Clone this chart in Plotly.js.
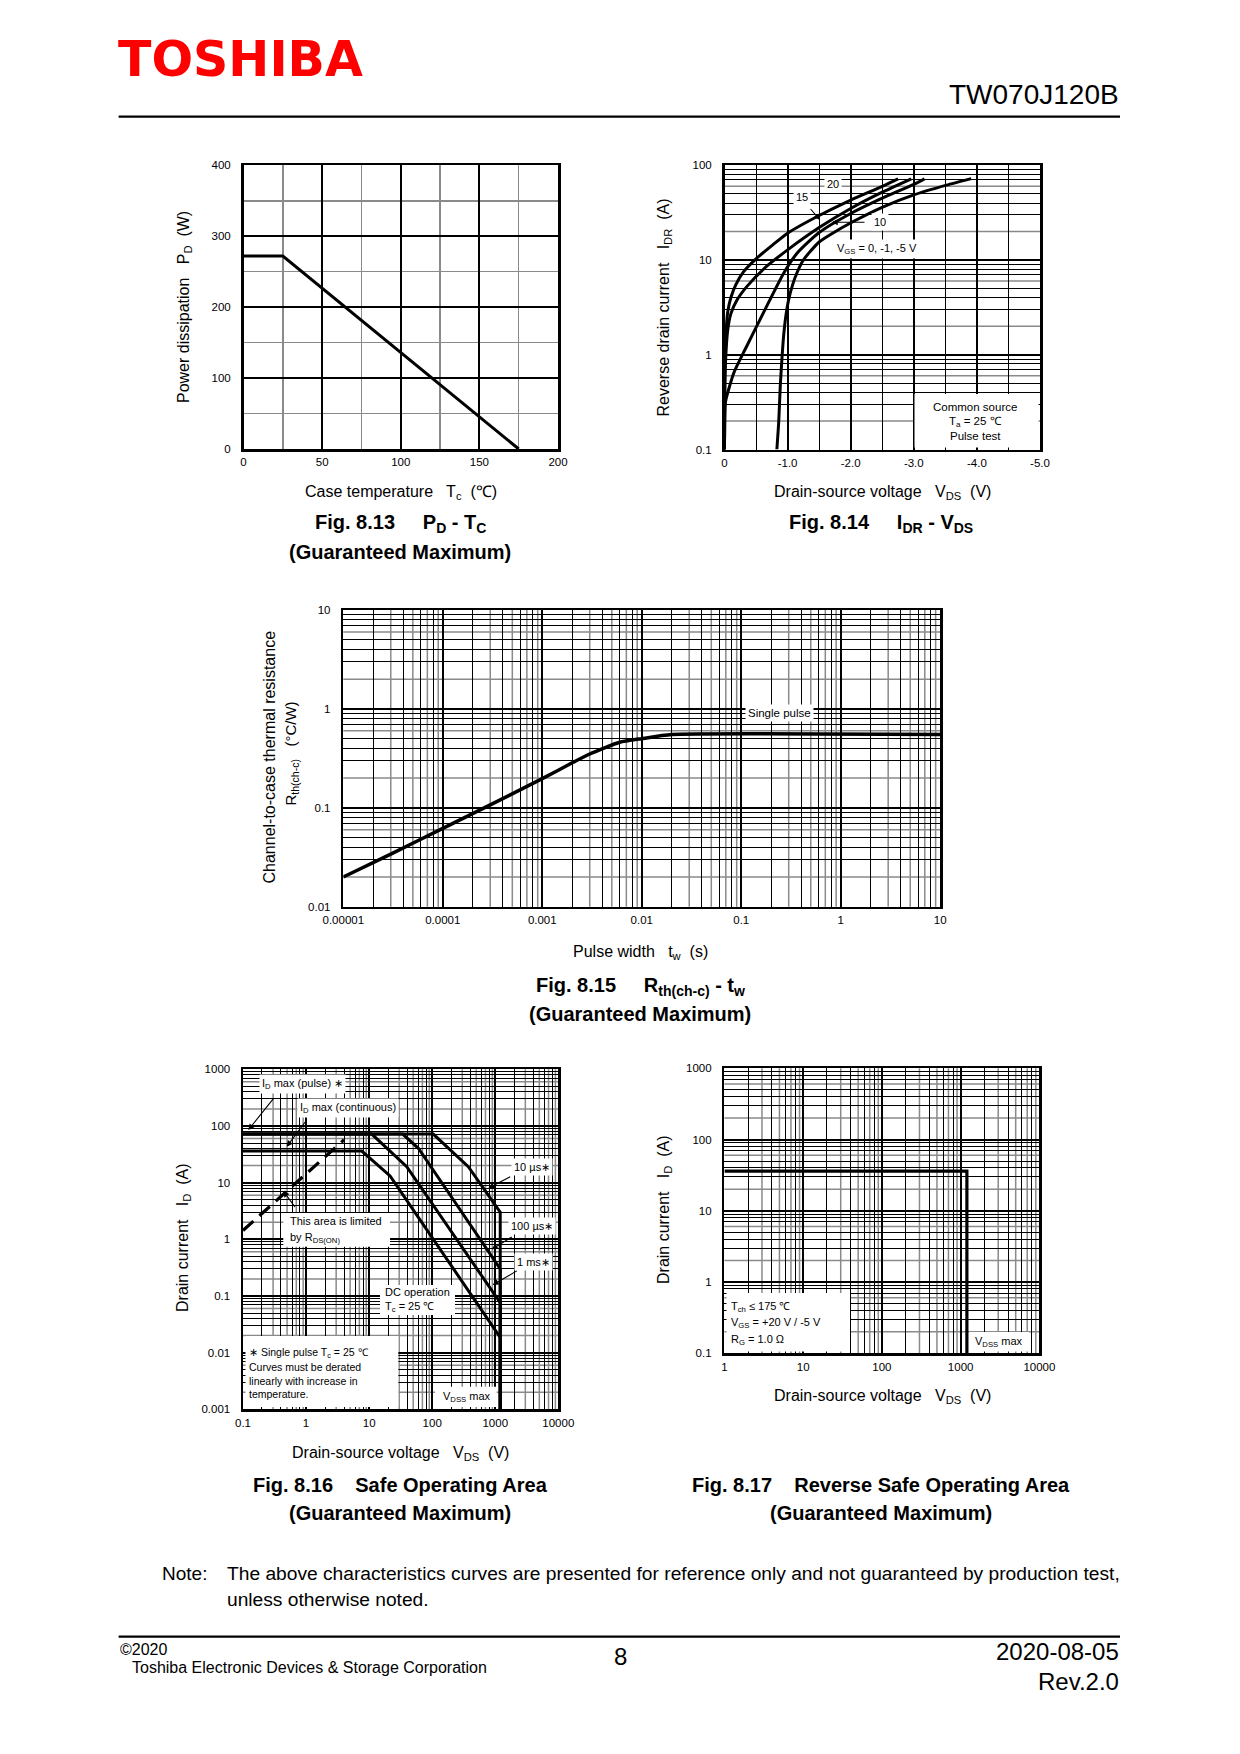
<!DOCTYPE html>
<html><head><meta charset="utf-8">
<script src="https://cdn.plot.ly/plotly-3.0.1.min.js"></script>
<style>html,body{margin:0;padding:0;background:#fff}</style>
</head><body>
<div id="page" style="width:1240px;height:1754px"></div>
<script>
// ---------------- DATA ----------------
// Fig 8.13  PD - Tc
const tcCase = [0, 25, 175];
const pdPower = [272, 272, 0];

// Fig 8.14  IDR - VDS (VDS negative)
const vds20 = [0, -0.005, -0.02, -0.05, -0.1, -0.18, -0.3, -0.5, -0.75, -1.0, -1.5, -2.0, -2.5, -2.75];
const idr20 = [0.1, 0.6, 1.5, 2.8, 4.0, 5.5, 7.5, 10.3, 14.2, 19.2, 29.5, 43, 60, 72];
const vds15 = [0, -0.005, -0.02, -0.05, -0.1, -0.2, -0.36, -0.67, -1.0, -1.5, -2.0, -2.5, -2.96];
const idr15 = [0.1, 0.45, 0.95, 1.8, 2.7, 3.8, 5.3, 8.6, 12.8, 22, 35, 52, 72];
const vds10 = [0, -0.004, -0.016, -0.15, -0.33, -0.62, -0.94, -1.15, -1.5, -2.0, -2.5, -3.0, -3.17];
const idr10 = [0.1, 0.22, 0.32, 0.65, 1.15, 2.8, 7.3, 11.8, 19.5, 31, 45, 63, 72];
const vds0 = [-0.83, -0.86, -0.884, -0.91, -0.937, -0.97, -1.016, -1.08, -1.147, -1.25, -1.358, -1.5, -1.674, -2.04, -2.516, -2.99, -3.516, -3.91];
const idr0 = [0.1, 0.2, 0.47, 0.9, 1.58, 2.5, 3.8, 5.5, 7.3, 10, 12.3, 15.5, 18.5, 25.5, 36.5, 48.4, 61.7, 72.4];

// Fig 8.15  Rth(ch-c) - tw
const pulseWidth = [1e-5, 3e-5, 1e-4, 3e-4, 1e-3, 2e-3, 3e-3, 6e-3, 1e-2, 2e-2, 10];
const rthCh = [0.020, 0.034, 0.062, 0.107, 0.197, 0.285, 0.35, 0.46, 0.50, 0.55, 0.55];

// Fig 8.16  Safe operating area
const soaV10us = [0.1, 104, 374, 1200, 1200];
const soaI10us = [72, 72, 19.1, 3.0, 0.001];
const soaV100us = [0.1, 34, 60.4, 1200, 1200];
const soaI100us = [72, 72, 40.4, 0.3, 0.001];
const soaV1ms = [0.1, 11, 39.5, 1200, 1200];
const soaI1ms = [72, 72, 19.1, 0.076, 0.001];
const soaVdc = [0.1, 7.65, 21.5, 1200, 1200];
const soaIdc = [36, 36, 13.1, 0.0186, 0.001];
const rdsV = [0.1, 4.0];
const rdsI = [1.43, 57];

// Fig 8.17  Reverse safe operating area
const rsoaV = [1, 1200, 1200];
const rsoaI = [36, 36, 0.1];

// tick labels
const tcTicks = [0, 50, 100, 150, 200];
const pdTicks = [0, 100, 200, 300, 400];
const vdsTicks = [0, -1, -2, -3, -4, -5];
const vdsTickText = ['0', '-1.0', '-2.0', '-3.0', '-4.0', '-5.0'];
const idrTicks = [0.1, 1, 10, 100];
const idrTickText = ['0.1', '1', '10', '100'];
const twTicks = [1e-5, 1e-4, 1e-3, 1e-2, 0.1, 1, 10];
const twTickText = ['0.00001', '0.0001', '0.001', '0.01', '0.1', '1', '10'];
const rthTicks = [0.01, 0.1, 1, 10];
const rthTickText = ['0.01', '0.1', '1', '10'];
const soaVTicks = [0.1, 1, 10, 100, 1000, 10000];
const soaVTickText = ['0.1', '1', '10', '100', '1000', '10000'];
const soaITicks = [0.001, 0.01, 0.1, 1, 10, 100, 1000];
const soaITickText = ['0.001', '0.01', '0.1', '1', '10', '100', '1000'];
const rsoaVTicks = [1, 10, 100, 1000, 10000];
const rsoaVTickText = ['1', '10', '100', '1000', '10000'];
const rsoaITicks = [0.1, 1, 10, 100, 1000];
const rsoaITickText = ['0.1', '1', '10', '100', '1000'];

// ---------------- HELPERS ----------------
const F = 'Liberation Sans, Arial, Helvetica, sans-serif';
const W = 1240, H = 1754;
const X = px => px / W;
const Y = py => 1 - py / H;

function mult(lo, hi, ms) {
  const out = [];
  for (let k = lo; k < hi; k++) for (const m of ms) out.push(m * Math.pow(10, k));
  return out;
}
function baseAxis(extra, isY) {
  return Object.assign({
    showline: true, mirror: true, linecolor: '#000', linewidth: 2.5,
    zeroline: false, ticks: '', showgrid: true, gridcolor: '#000', gridwidth: 2,
    fixedrange: true, tickmode: 'array', ticklabelstandoff: isY ? 8 : 1,
    tickfont: {family: F, size: 11.5, color: '#000'}
  }, extra);
}
function xdom(a, b) { return [X(a), X(b)]; }
function ydom(top, bot) { return [Y(bot), Y(top)]; }

const shapes = [];
function grayLines(xref, yref, vals, dir) {
  for (const v of vals) {
    if (dir === 'x') shapes.push({type: 'line', xref: xref, yref: yref + ' domain', x0: v, x1: v, y0: 0, y1: 1, layer: 'below', line: {color: '#8a8a8a', width: 1.5}});
    else shapes.push({type: 'line', xref: xref + ' domain', yref: yref, x0: 0, x1: 1, y0: v, y1: v, layer: 'below', line: {color: '#8a8a8a', width: 1.5}});
  }
}
function box(x0, x1, y0, y1) {
  shapes.push({type: 'rect', xref: 'paper', yref: 'paper', x0: X(x0), x1: X(x1), y0: Y(y1), y1: Y(y0), layer: 'above', fillcolor: '#fff', line: {width: 0}});
}
function hline(x0, x1, y, w) {
  shapes.push({type: 'line', xref: 'paper', yref: 'paper', x0: X(x0), x1: X(x1), y0: Y(y), y1: Y(y), line: {color: '#000', width: w}});
}

const ann = [];
function A(text, px, py, o) {
  o = o || {};
  const a = {text: text, xref: 'paper', yref: 'paper', x: X(px), y: Y(py), showarrow: false,
    xanchor: o.xa || 'center', yanchor: 'middle',
    font: {family: o.family || F, size: o.size || 11, color: o.color || '#000', weight: o.weight || 'normal'}};
  if (o.angle) a.textangle = o.angle;
  if (o.bg) { a.bgcolor = '#fff'; a.borderpad = o.pad == null ? 2 : o.pad; }
  ann.push(a);
}
function arrow(hx, hy, tx, ty) {
  ann.push({text: '', xref: 'paper', yref: 'paper', x: X(hx), y: Y(hy), ax: tx - hx, ay: ty - hy,
    showarrow: true, arrowhead: 2, arrowsize: 1.1, arrowwidth: 1.1, arrowcolor: '#000', standoff: 0});
}

// ---------------- AXES ----------------
const layout = {
  width: W, height: H, autosize: false, margin: {l: 0, r: 0, t: 0, b: 0},
  paper_bgcolor: '#fff', plot_bgcolor: '#fff', showlegend: false,
  font: {family: F, size: 11, color: '#000'},

  // Fig 8.13
  xaxis: baseAxis({domain: xdom(243.5, 558), anchor: 'y', range: [0, 200], tickvals: tcTicks, ticktext: tcTicks.map(String),
    minor: {tickmode: 'array', tickvals: [25, 75, 125, 175], showgrid: true, gridcolor: '#8a8a8a', gridwidth: 1.5, ticks: ''}}),
  yaxis: baseAxis({domain: ydom(165.3, 449), anchor: 'x', range: [0, 400], tickvals: pdTicks, ticktext: pdTicks.map(String),
    minor: {tickmode: 'array', tickvals: [50, 150, 250, 350], showgrid: true, gridcolor: '#8a8a8a', gridwidth: 1.5, ticks: ''}}, true),

  // Fig 8.14
  xaxis2: baseAxis({domain: xdom(724.5, 1040), anchor: 'y2', range: [0, -5], tickvals: vdsTicks, ticktext: vdsTickText,
    minor: {tickmode: 'array', tickvals: [-0.5, -1.5, -2.5, -3.5, -4.5], showgrid: true, gridcolor: '#000', gridwidth: 1, ticks: ''}}),
  yaxis2: baseAxis({domain: ydom(165.3, 449.5), anchor: 'x2', type: 'log', range: [-1, 2], tickvals: idrTicks, ticktext: idrTickText,
    minor: {tickmode: 'array', tickvals: mult(-1, 2, [3, 4, 5, 7, 8, 9]), showgrid: true, gridcolor: '#000', gridwidth: 1, ticks: ''}}, true),

  // Fig 8.15
  xaxis3: baseAxis({domain: xdom(343.3, 940.2), anchor: 'y3', type: 'log', range: [-5, 1], tickvals: twTicks, ticktext: twTickText,
    minor: {tickmode: 'array', tickvals: mult(-5, 1, [2, 4, 6, 8]), showgrid: true, gridcolor: '#000', gridwidth: 1, ticks: ''}}),
  yaxis3: baseAxis({domain: ydom(610, 906.7), anchor: 'x3', type: 'log', range: [-2, 1], tickvals: rthTicks, ticktext: rthTickText,
    minor: {tickmode: 'array', tickvals: mult(-2, 1, [3, 4, 5, 7, 8, 9]), showgrid: true, gridcolor: '#000', gridwidth: 1, ticks: ''}}, true),

  // Fig 8.16
  xaxis4: baseAxis({domain: xdom(243, 558.3), anchor: 'y4', type: 'log', range: [-1, 4], tickvals: soaVTicks, ticktext: soaVTickText,
    minor: {tickmode: 'array', tickvals: mult(-1, 4, [2, 4, 6, 8]), showgrid: true, gridcolor: '#000', gridwidth: 1, ticks: ''}}),
  yaxis4: baseAxis({domain: ydom(1069.3, 1409.3), anchor: 'x4', type: 'log', range: [-3, 3], tickvals: soaITicks, ticktext: soaITickText,
    minor: {tickmode: 'array', tickvals: mult(-3, 3, [3, 4, 5, 7, 8, 9]), showgrid: true, gridcolor: '#000', gridwidth: 1, ticks: ''}}, true),

  // Fig 8.17
  xaxis5: baseAxis({domain: xdom(724.4, 1039.4), anchor: 'y5', type: 'log', range: [0, 4], tickvals: rsoaVTicks, ticktext: rsoaVTickText,
    minor: {tickmode: 'array', tickvals: mult(0, 4, [2, 4, 6, 8]), showgrid: true, gridcolor: '#000', gridwidth: 1, ticks: ''}}),
  yaxis5: baseAxis({domain: ydom(1068.3, 1353.3), anchor: 'x5', type: 'log', range: [-1, 3], tickvals: rsoaITicks, ticktext: rsoaITickText,
    minor: {tickmode: 'array', tickvals: mult(-1, 3, [3, 4, 5, 7, 8, 9]), showgrid: true, gridcolor: '#000', gridwidth: 1, ticks: ''}}, true)
};

// lighter gray grid lines
grayLines('x2', 'y2', mult(-1, 2, [2, 6]), 'y');
grayLines('x3', 'y3', mult(-5, 1, [3, 5, 7, 9]), 'x');
grayLines('x3', 'y3', mult(-2, 1, [2, 6]), 'y');
grayLines('x4', 'y4', mult(-1, 4, [3, 5, 7, 9]), 'x');
grayLines('x4', 'y4', mult(-3, 3, [2, 6]), 'y');
grayLines('x5', 'y5', mult(0, 4, [3, 5, 7, 9]), 'x');
grayLines('x5', 'y5', mult(-1, 3, [2, 6]), 'y');

// ---------------- TRACES ----------------
const L = (w, extra) => Object.assign({color: '#000', width: w}, extra || {});
const traces = [
  {x: tcCase, y: pdPower, xaxis: 'x', yaxis: 'y', mode: 'lines', line: L(3), hoverinfo: 'skip'},

  {x: vds20, y: idr20, xaxis: 'x2', yaxis: 'y2', mode: 'lines', line: L(3, {shape: 'spline', smoothing: 0.6}), hoverinfo: 'skip'},
  {x: vds15, y: idr15, xaxis: 'x2', yaxis: 'y2', mode: 'lines', line: L(3, {shape: 'spline', smoothing: 0.6}), hoverinfo: 'skip'},
  {x: vds10, y: idr10, xaxis: 'x2', yaxis: 'y2', mode: 'lines', line: L(3, {shape: 'spline', smoothing: 0.6}), hoverinfo: 'skip'},
  {x: vds0, y: idr0, xaxis: 'x2', yaxis: 'y2', mode: 'lines', line: L(3, {shape: 'spline', smoothing: 0.6}), hoverinfo: 'skip'},

  {x: pulseWidth, y: rthCh, xaxis: 'x3', yaxis: 'y3', mode: 'lines', line: L(3.5, {shape: 'spline', smoothing: 0.5}), hoverinfo: 'skip'},

  {x: soaV10us, y: soaI10us, xaxis: 'x4', yaxis: 'y4', mode: 'lines', line: L(3), hoverinfo: 'skip'},
  {x: soaV100us, y: soaI100us, xaxis: 'x4', yaxis: 'y4', mode: 'lines', line: L(3), hoverinfo: 'skip'},
  {x: soaV1ms, y: soaI1ms, xaxis: 'x4', yaxis: 'y4', mode: 'lines', line: L(3), hoverinfo: 'skip'},
  {x: soaVdc, y: soaIdc, xaxis: 'x4', yaxis: 'y4', mode: 'lines', line: L(3), hoverinfo: 'skip'},
  {x: rdsV, y: rdsI, xaxis: 'x4', yaxis: 'y4', mode: 'lines', line: L(3.2, {dash: '14px,8px'}), hoverinfo: 'skip'},

  {x: rsoaV, y: rsoaI, xaxis: 'x5', yaxis: 'y5', mode: 'lines', line: L(3.2), hoverinfo: 'skip'}
];

// ---------------- PAGE TEXT ----------------
A('<b>TOSHIBA</b>', 116, 60, {xa: 'left', size: 49, color: '#ff0000', family: 'DejaVu Sans, Liberation Sans, sans-serif'});
A('TW070J120B', 1121, 95, {xa: 'right', size: 28});
hline(118.6, 1120, 116.7, 2.2);

const cap = (t, x, y) => A(t, x, y, {size: 20, weight: 'bold'});

// Fig 8.13
A('Power dissipation\u00a0\u00a0 P<sub>D</sub> \u00a0(W)', 185, 307, {angle: -90, size: 16});
A('Case temperature\u00a0\u00a0 T<sub>c</sub> \u00a0(\u2103)', 400.5, 492, {size: 16});
cap('Fig. 8.13\u00a0\u00a0\u00a0\u00a0 P<sub>D</sub> - T<sub>C</sub>', 400, 524);
cap('(Guaranteed Maximum)', 400, 552);

// Fig 8.14
A('Reverse drain current\u00a0\u00a0 I<sub>DR</sub> \u00a0(A)', 664, 307.5, {angle: -90, size: 16});
A('Drain-source voltage\u00a0\u00a0 V<sub>DS</sub> \u00a0(V)', 882, 492, {size: 16});
cap('Fig. 8.14\u00a0\u00a0\u00a0\u00a0 I<sub>DR</sub> - V<sub>DS</sub>', 881, 523);
A('20', 833.3, 184, {bg: true});
A('15', 801.7, 197.3, {bg: true});
A('10', 880, 222.3, {bg: true});
A('V<sub>GS</sub> = 0, -1, -5 V', 877, 249.3, {bg: true});
arrow(820, 220, 809.3, 207.5);
arrow(831.7, 222.3, 866, 222.3);
box(914.5, 1038.5, 394, 447.5);
A('Common source', 975, 406.7, {size: 11.5});
A('T<sub>a</sub> = 25 \u2103', 975, 421.7, {size: 11.5});
A('Pulse test', 975, 436, {size: 11.5});

// Fig 8.15
A('Channel-to-case thermal resistance', 268.5, 757, {angle: -90, size: 16});
A('R<sub>th(ch-c)</sub>\u00a0\u00a0 (\u00b0C/W)', 290.5, 754, {angle: -90, size: 15});
A('Pulse width\u00a0\u00a0 t<sub>w</sub> \u00a0(s)', 640, 952, {size: 16});
cap('Fig. 8.15\u00a0\u00a0\u00a0\u00a0 R<sub>th(ch-c)</sub> - t<sub>w</sub>', 640, 986);
cap('(Guaranteed Maximum)', 640, 1014);
A('Single pulse', 779.5, 712.7, {bg: true, size: 11.5});

// Fig 8.16
A('Drain current\u00a0\u00a0 I<sub>D</sub> \u00a0(A)', 183, 1238, {angle: -90, size: 16});
A('Drain-source voltage\u00a0\u00a0 V<sub>DS</sub> \u00a0(V)', 400, 1453, {size: 16});
cap('Fig. 8.16\u00a0\u00a0\u00a0 Safe Operating Area', 400, 1485);
cap('(Guaranteed Maximum)', 400, 1513);
A('I<sub>D</sub> max (pulse) \u2217', 302, 1083.5, {bg: true});
arrow(248.3, 1130, 275, 1096.7);
A('I<sub>D</sub> max (continuous)', 348.3, 1107.7, {bg: true});
arrow(286.7, 1146.7, 306.7, 1120);
box(283.3, 390, 1213, 1246.7);
A('This area is limited', 288.3, 1220.7, {xa: 'left'});
A('by R<sub>DS(ON)</sub>', 288.3, 1238, {xa: 'left'});
arrow(283.3, 1191, 296, 1208.3);
box(380, 455, 1285, 1315);
A('DC operation', 382.7, 1291.7, {xa: 'left'});
A('T<sub>c</sub> = 25 \u2103', 382.7, 1306.7, {xa: 'left'});
A('10 \u00b5s\u2217', 531.7, 1166.7, {bg: true});
arrow(488.3, 1188.3, 511.7, 1176);
A('100 \u00b5s\u2217', 531.7, 1226, {bg: true});
arrow(491.7, 1249.3, 513.3, 1236);
A('1 ms\u2217', 533.3, 1261.7, {bg: true});
arrow(492.7, 1285, 518.3, 1270);
box(245.5, 398.3, 1336, 1407);
A('\u2217 Single pulse T<sub>c</sub> = 25 \u2103', 247.3, 1353.3, {xa: 'left', size: 10.5});
A('Curves must be derated', 247.3, 1367.3, {xa: 'left', size: 10.5});
A('linearly with increase in', 247.3, 1380.7, {xa: 'left', size: 10.5});
A('temperature.', 247.3, 1394, {xa: 'left', size: 10.5});
box(435, 496.7, 1386.7, 1407);
A('V<sub>DSS</sub> max', 466, 1396.7);

// Fig 8.17
A('Drain current\u00a0\u00a0 I<sub>D</sub> \u00a0(A)', 664, 1210, {angle: -90, size: 16});
A('Drain-source voltage\u00a0\u00a0 V<sub>DS</sub> \u00a0(V)', 882, 1396, {size: 16});
cap('Fig. 8.17\u00a0\u00a0\u00a0 Reverse Safe Operating Area', 881, 1485);
cap('(Guaranteed Maximum)', 881, 1513);
box(726.5, 850, 1293, 1351.5);
A('T<sub>ch</sub> \u2264 175 \u2103', 728.8, 1306.7, {xa: 'left'});
A('V<sub>GS</sub> = +20 V / -5 V', 728.8, 1323.3, {xa: 'left'});
A('R<sub>G</sub> = 1.0 \u03a9', 728.8, 1340, {xa: 'left'});
box(969, 1029, 1332, 1351.5);
A('V<sub>DSS</sub> max', 998, 1341.7);

// Footer
A('Note:', 159.7, 1573, {xa: 'left', size: 19});
A('The above characteristics curves are presented for reference only and not guaranteed by production test,', 224.7, 1573, {xa: 'left', size: 19.2});
A('unless otherwise noted.', 224.7, 1599, {xa: 'left', size: 19.2});
hline(118.6, 1120, 1636.7, 2.2);
A('\u00a92020', 118, 1649, {xa: 'left', size: 16});
A('Toshiba Electronic Devices &amp; Storage Corporation', 130, 1667, {xa: 'left', size: 16});
A('8', 620, 1656, {size: 24});
A('2020-08-05', 1121, 1651, {xa: 'right', size: 24});
A('Rev.2.0', 1121, 1681, {xa: 'right', size: 24});

layout.shapes = shapes;
layout.annotations = ann;

Plotly.newPlot('page', traces, layout, {staticPlot: true, displayModeBar: false});
</script>
</body></html>
